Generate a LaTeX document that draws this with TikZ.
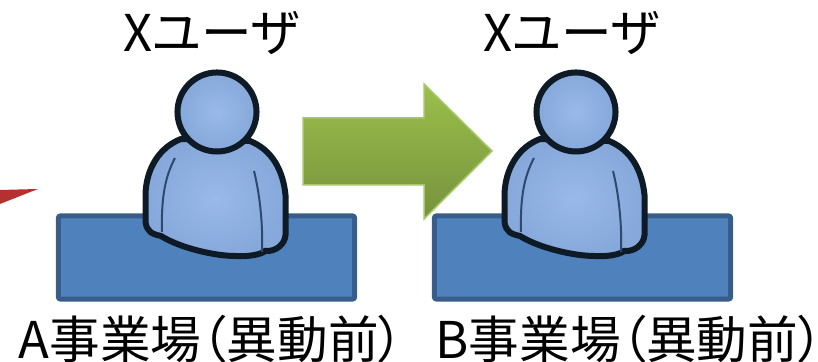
\documentclass[tikz,border=0pt]{standalone}
\usepackage{fontspec}
\setmainfont{Noto Sans CJK JP}[RawFeature=+palt]
\usetikzlibrary{positioning}
\definecolor{deskfill}{HTML}{4F81BD}
\definecolor{deskline}{HTML}{385D8A}
\definecolor{userfill}{HTML}{98B9E9}
\definecolor{useredge}{HTML}{86A8DA}
\definecolor{userline}{HTML}{0E1A26}
\definecolor{arrowtop}{HTML}{9BBF4B}
\definecolor{arrowbottom}{HTML}{76923C}
\definecolor{arrowline}{HTML}{A6C868}
\definecolor{tipred}{HTML}{B5302F}
\tikzset{
  desk/.style={draw=deskline, line width=0.05cm, fill=deskfill, rounded corners=0.02cm},
  user/.style={draw=userline, line width=0.06cm, inner color=userfill, outer color=useredge},
  crease/.style={draw=deskline!80!black, line width=0.02cm},
  label/.style={inner sep=0pt, font=\fontsize{14.4}{16}\selectfont},
  title/.style={inner sep=0pt, font=\fontsize{14.4}{16}\selectfont}
}
\begin{document}
\begin{tikzpicture}[x=0.01cm, y=-0.01cm]
     \useasboundingbox (0,0) rectangle (818,362);
     % red tip at the left edge
     \fill[tipred] (0,190) -- (38,189) -- (0,204) -- cycle;
     % desks
     \node[desk, minimum width=2.96cm, minimum height=0.83cm] (deskA) at (206.5,257.5) {};
     \node[desk, minimum width=2.96cm, minimum height=0.83cm] (deskB) at (582.5,257.5) {};
     % two users
     \foreach \dx/\nm in {0/A, 359/B} {
       \begin{scope}[xshift=\dx*0.01cm]
         \draw[user] (181,139) .. controls (160,147) and (146,168) .. (145.5,195)
           -- (145.5,222) .. controls (147,232) and (152,234) .. (161,236)
           .. controls (180,248) and (215,256) .. (235,256)
           .. controls (250,257) and (262,254) .. (265,251)
           .. controls (276,252) and (285,244) .. (285.5,235)
           -- (285.5,195) .. controls (283,170) and (272,150) .. (250,141)
           -- cycle;
         \draw[crease] (175,158) .. controls (166,175) and (161,195) .. (162,232);
         \draw[crease] (254,171) .. controls (260,195) and (263,225) .. (262,252);
         \node[circle, user, minimum size=0.79cm, inner sep=0pt] (head\nm) at (217,112) {};
       \end{scope}
     }
     % move arrow
     \draw[draw=arrowline, line width=0.015cm, top color=arrowtop, bottom color=arrowbottom]
       (303,118) -- (424,118) -- (424,84) -- (492,151) -- (424,219) -- (424,185) -- (303,185) -- cycle;
     % texts
     \node[title] (titleA) at (211,33) {Xユーザ};
     \node[title] (titleB) at (571,33) {Xユーザ};
     \node[label, anchor=west] (nameA) at (18,339) {A事業場（異動前）};
     \node[label, anchor=west] (nameB) at (435,339) {B事業場（異動前）};
\end{tikzpicture}
\end{document}
